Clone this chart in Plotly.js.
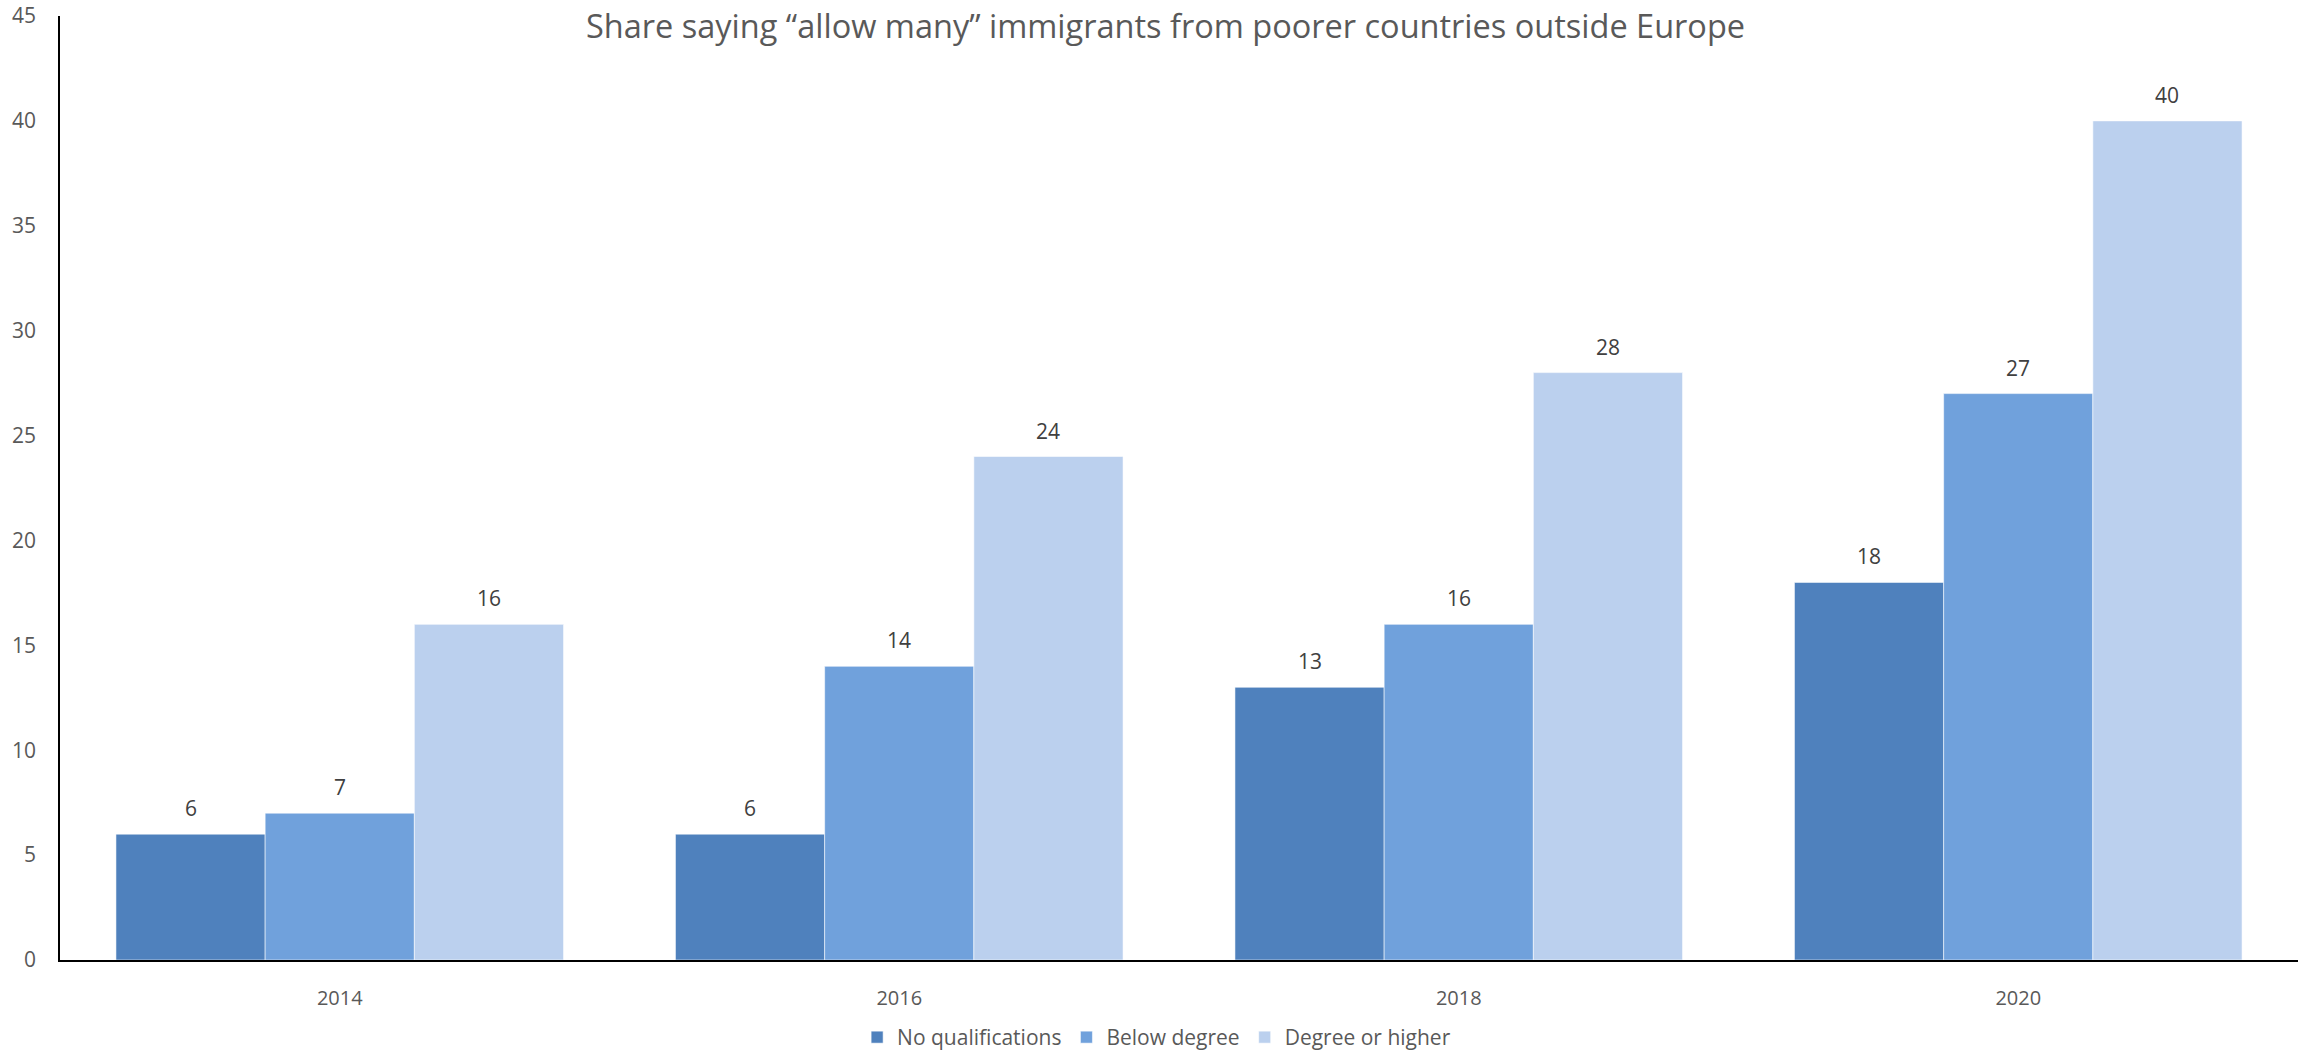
<!DOCTYPE html>
<html>
<head>
<meta charset="utf-8">
<script src="https://cdn.plot.ly/plotly-3.0.1.min.js"></script>
<style>html,body{margin:0;padding:0;background:#fff;}#chart{width:2306px;height:1058px;}</style>
</head>
<body>
<div id="chart"></div>
<script>
const years = ["2014", "2016", "2018", "2020"];
const seriesNames = ["No qualifications", "Below degree", "Degree or higher"];
const noQualifications = [6, 6, 13, 18];
const belowDegree = [7, 14, 16, 27];
const degreeOrHigher = [16, 24, 28, 40];
const yTicks = [0, 5, 10, 15, 20, 25, 30, 35, 40, 45];
const titleText = "Share saying \u201callow many\u201d immigrants from poorer countries outside Europe";

const colors = ["#4F81BD", "#70A1DC", "#BBD0EE"];
const allSeries = [noQualifications, belowDegree, degreeOrHigher];

const W = 2306, H = 1058;
const margin = {l: 60, r: 8, t: 16, b: 98};
const plotW = W - margin.l - margin.r;
const bargap = 0.2;
const catW = plotW / years.length;
const barW = catW * (1 - bargap) / allSeries.length;

const traces = allSeries.map((vals, i) => ({
  type: "bar",
  name: seriesNames[i],
  x: years,
  y: vals,
  marker: {color: colors[i], line: {color: "rgba(255,255,255,0.55)", width: 1}},
  hoverinfo: "x+y+name"
}));

const annotations = [];
allSeries.forEach((vals, i) => {
  vals.forEach((v, j) => {
    annotations.push({
      x: j, y: v, xref: "x", yref: "y",
      text: String(v), showarrow: false,
      xshift: (i - 1) * barW, yanchor: "bottom", yshift: 10,
      font: {family: "Open Sans, sans-serif", size: 21, color: "#404040"}
    });
  });
});

annotations.push({
  xref: "paper", yref: "paper", x: 0.494, y: 1, yanchor: "middle", yshift: -9,
  text: titleText, showarrow: false,
  font: {family: "Open Sans, sans-serif", size: 32.5, color: "#595959"}
});

const layout = {
  width: W, height: H,
  margin: Object.assign({autoexpand: false}, margin),
  paper_bgcolor: "#fff", plot_bgcolor: "#fff",
  barmode: "group", bargap: bargap, bargroupgap: 0,
  showlegend: true,
  legend: {
    orientation: "h", x: 0.49, xanchor: "center",
    yref: "container", y: 0, yanchor: "bottom",
    font: {family: "Open Sans, sans-serif", size: 21, color: "#595959"},
    itemwidth: 30, traceorder: "normal", tracegroupgap: 0
  },
  xaxis: {
    type: "category", range: [-0.5, years.length - 0.5], autorange: false,
    automargin: false,
    showline: true, linecolor: "#000", linewidth: 2,
    showgrid: false, zeroline: false, ticks: "",
    ticklabelstandoff: 19,
    tickfont: {family: "Open Sans, sans-serif", size: 20, color: "#595959"}
  },
  yaxis: {
    range: [0, 45], autorange: false, tickvals: yTicks,
    automargin: false,
    showline: true, linecolor: "#000", linewidth: 1.5,
    showgrid: false, zeroline: false, ticks: "",
    ticklabelstandoff: 18,
    tickfont: {family: "Open Sans, sans-serif", size: 21, color: "#595959"}
  },
  annotations: annotations
};

Plotly.newPlot("chart", traces, layout, {displayModeBar: false, responsive: false});
</script>
</body>
</html>
